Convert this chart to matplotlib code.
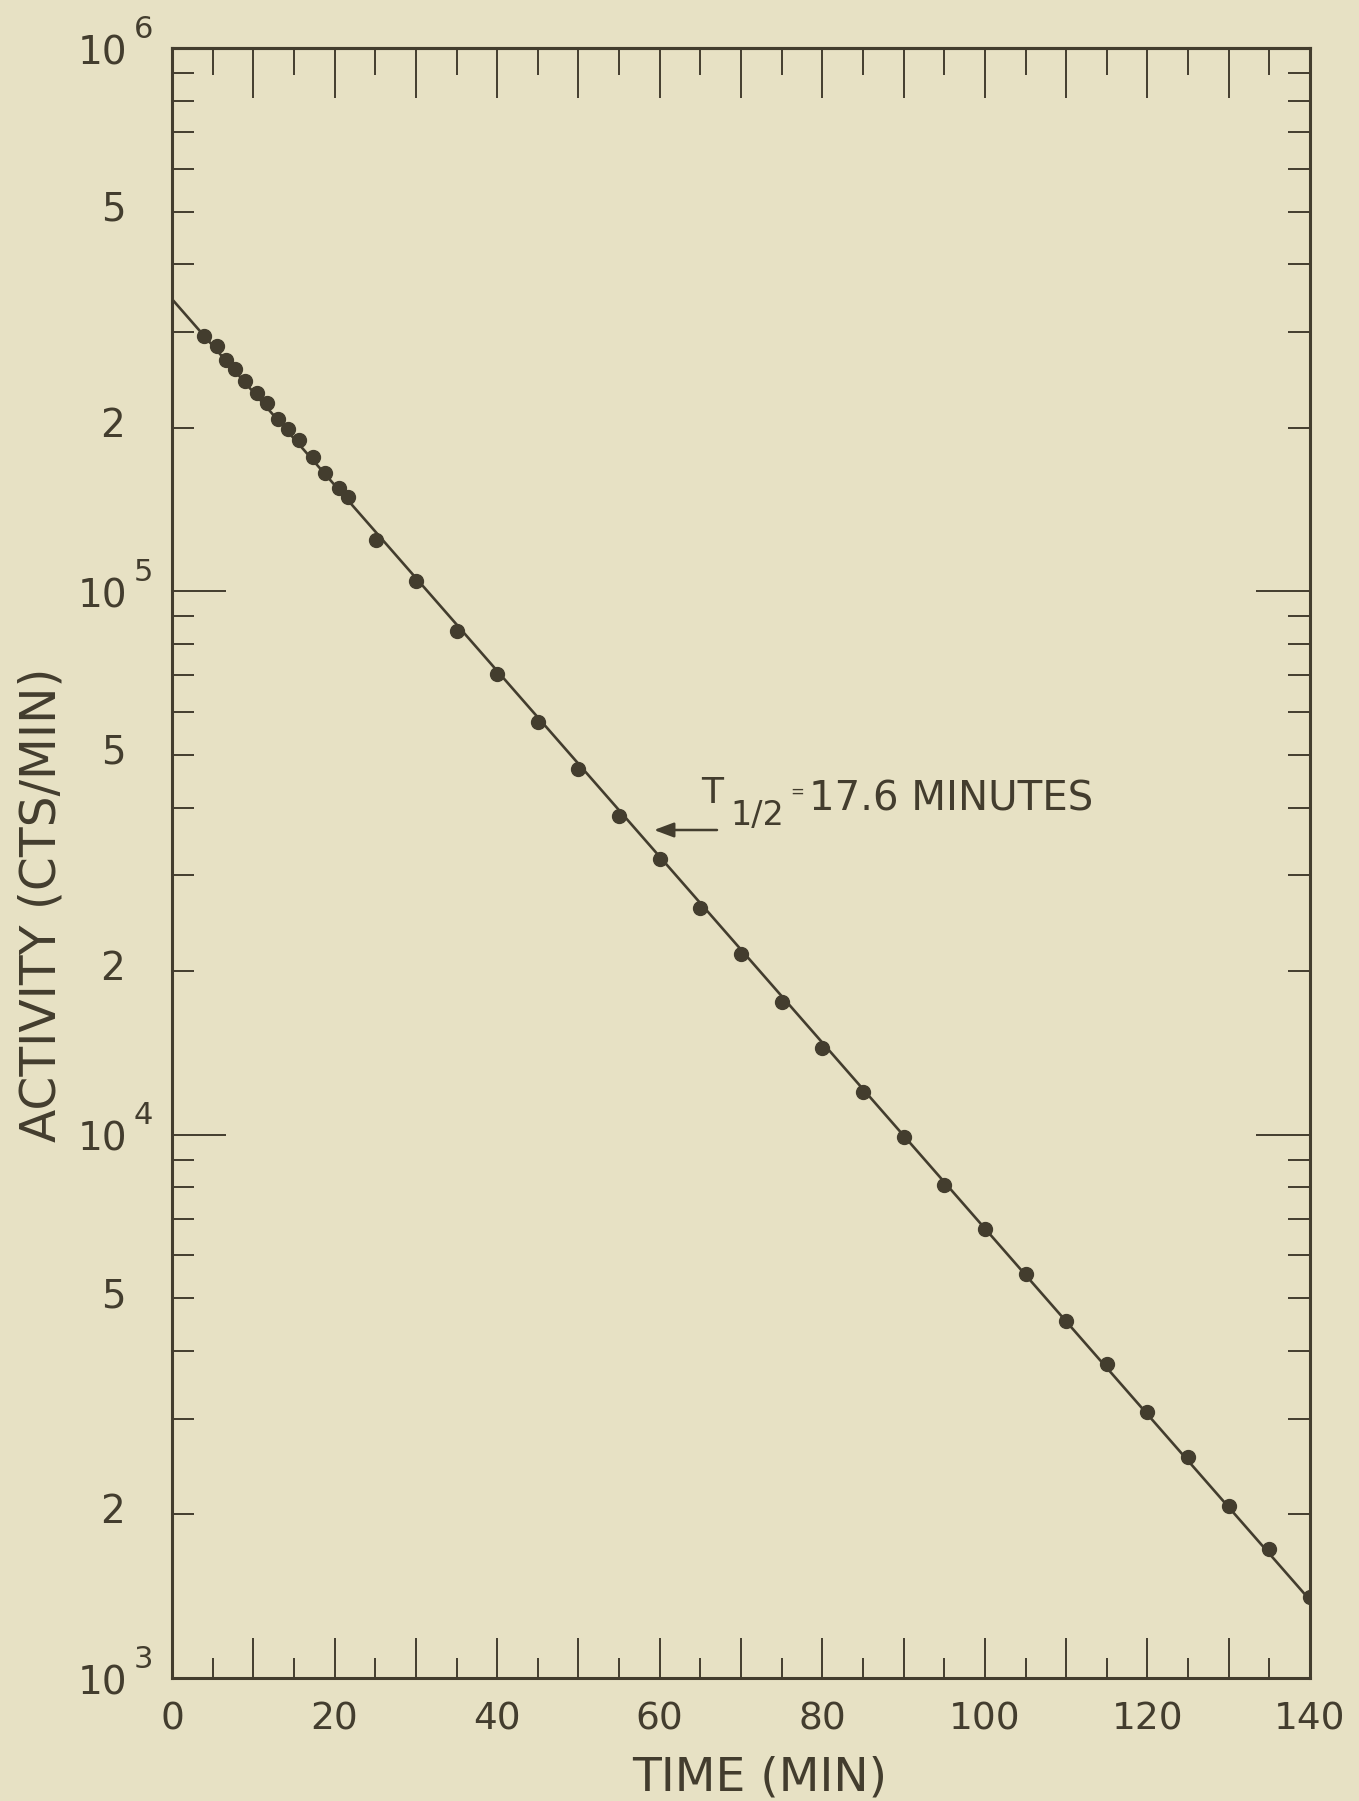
import numpy as np
import matplotlib
matplotlib.use("Agg")
import matplotlib.pyplot as plt
from matplotlib.ticker import LogLocator, NullFormatter, MultipleLocator, FixedLocator

# Measured activity of the sample (counts per minute) versus elapsed time (minutes)
time_min = [3.9, 5.5, 6.6, 7.8, 9.0, 10.5, 11.7, 13.0, 14.3, 15.6, 17.3, 18.8,
            20.6, 21.7, 25.1, 30.0, 35, 40, 45, 50, 55, 60, 65, 70, 75, 80,
            85, 90, 95, 100, 105, 110, 115, 120, 125, 130, 135, 140]
activity_cpm = [295000, 283000, 266600, 257000, 244000, 231400, 222200, 207600,
                198700, 190000, 176500, 164900, 155000, 149400, 124100, 104500,
                84700, 70470, 57420, 47040, 38610, 32170, 26110, 21510, 17570,
                14460, 12000, 9915, 8080, 6697, 5534, 4547, 3779, 3092, 2548,
                2076, 1725, 1411]

# Fitted decay line: half-life and initial activity
half_life = 17.6
initial_activity = 3.45e5
fit_range = [0, 140]

x_tick_values = [0, 20, 40, 60, 80, 100, 120, 140]
y_label_values = [1e3, 2e3, 5e3, 1e4, 2e4, 5e4, 1e5, 2e5, 5e5, 1e6]

paper = "#e7e1c4"
ink = "#433d2e"
PX = 0.72  # points per pixel at 100 dpi

plt.rcParams["font.family"] = ["DejaVu Sans"]

fig = plt.figure(figsize=(13.59, 18.01), dpi=100, facecolor=paper)
W, H = 1359, 1801
left, right, top, bottom = 172, 1310, 48, 1678
ax = fig.add_axes([left / W, 1 - bottom / H, (right - left) / W, (bottom - top) / H])
ax.set_facecolor(paper)

# decay line and measured points
t_fit = np.linspace(fit_range[0], fit_range[1], 200)
ax.plot(t_fit, initial_activity * 0.5 ** (t_fit / half_life), color=ink, lw=1.9, zorder=2)
ax.plot(time_min, activity_cpm, "o", color=ink, ms=10, mec=ink, zorder=3)

ax.set_yscale("log")
ax.set_xlim(0, 140)
ax.set_ylim(1e3, 1e6)

for s in ax.spines.values():
    s.set_color(ink)
    s.set_linewidth(2.2)

# bottom x ticks: long every 10, short every 5, labels every 20
major_x = np.arange(0, 141, 10)
ax.xaxis.set_major_locator(FixedLocator(major_x))
ax.xaxis.set_minor_locator(MultipleLocator(5))
ax.set_xticklabels([str(int(v)) if int(v) in x_tick_values else "" for v in major_x])
ax.tick_params(axis="x", which="major", direction="in", length=40 * PX, width=1.4,
               color=ink, labelcolor=ink, labelsize=27, pad=17, top=False)
ax.tick_params(axis="x", which="minor", direction="in", length=20 * PX, width=1.4,
               color=ink, top=False)

# top x ticks (longer)
sec = ax.secondary_xaxis("top")
sec.xaxis.set_major_locator(FixedLocator(major_x))
sec.xaxis.set_minor_locator(MultipleLocator(5))
sec.xaxis.set_major_formatter(NullFormatter())
sec.tick_params(axis="x", which="major", direction="in", length=50 * PX, width=1.4, color=ink)
sec.tick_params(axis="x", which="minor", direction="in", length=27 * PX, width=1.4, color=ink)
sec.spines["top"].set_color(ink)
sec.spines["top"].set_linewidth(2.2)

# y ticks on both sides
ax.yaxis.set_major_locator(LogLocator(base=10, numticks=10))
ax.yaxis.set_minor_locator(LogLocator(base=10, subs=np.arange(2, 10), numticks=20))
ax.yaxis.set_major_formatter(NullFormatter())
ax.yaxis.set_minor_formatter(NullFormatter())
ax.tick_params(axis="y", which="major", direction="in", length=54 * PX, width=1.4,
               color=ink, left=True, right=True)
ax.tick_params(axis="y", which="minor", direction="in", length=22 * PX, width=1.4,
               color=ink, left=True, right=True)

# y tick labels: powers of ten with raised exponent, plain digits between
for v in y_label_values:
    exp = int(np.floor(np.log10(v) + 1e-9))
    mant = int(round(v / 10 ** exp))
    if mant == 1:
        ax.annotate("10", xy=(0, v), xycoords=("axes fraction", "data"),
                    xytext=(-45 * PX, -5 * PX), textcoords="offset points",
                    ha="right", va="center", fontsize=28, color=ink)
        ax.annotate(str(exp), xy=(0, v), xycoords=("axes fraction", "data"),
                    xytext=(-38 * PX, 19 * PX), textcoords="offset points",
                    ha="left", va="center", fontsize=22, color=ink)
    else:
        ax.annotate(str(mant), xy=(0, v), xycoords=("axes fraction", "data"),
                    xytext=(-59 * PX, 2 * PX), textcoords="offset points",
                    ha="center", va="center", fontsize=28, color=ink)

# axis titles
fig.text(42 / W, 1 - 905 / H, "ACTIVITY (CTS/MIN)", rotation=90, ha="center",
         va="center", fontsize=35, color=ink)
fig.text(760 / W, 1 - 1778 / H, "TIME (MIN)", ha="center", va="center",
         fontsize=34, color=ink)

# half-life annotation
fig.text(701 / W, 1 - 803 / H, "T", ha="left", va="baseline", fontsize=26, color=ink)
fig.text(730 / W, 1 - 825 / H, "1/2", ha="left", va="baseline", fontsize=24, color=ink)
fig.text(797 / W, 1 - 792 / H, "=", ha="center", va="center", fontsize=12, color=ink)
fig.text(809 / W, 1 - 810 / H, "17.6 MINUTES", ha="left", va="baseline",
         fontsize=29, color=ink)
ax.annotate("", xy=(654, H - 830), xycoords="figure pixels",
            xytext=(717, H - 830), textcoords="figure pixels",
            arrowprops=dict(arrowstyle="-|>,head_length=0.4,head_width=0.15",
                            color=ink, lw=1.8, mutation_scale=30, shrinkA=0, shrinkB=0))

fig.savefig("out.png", dpi=100, facecolor=paper)
